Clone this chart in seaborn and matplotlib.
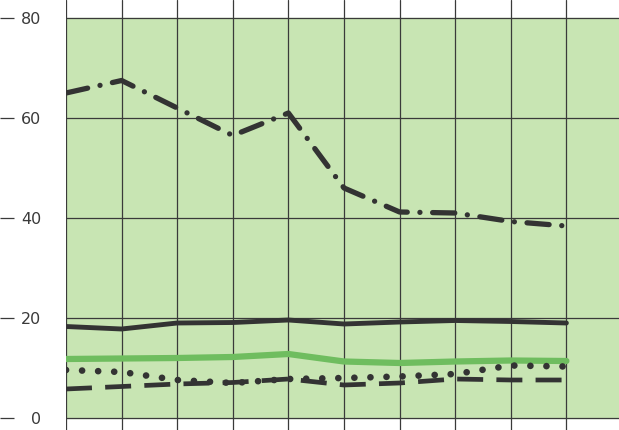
import pandas as pd
import matplotlib.pyplot as plt
import seaborn as sns

sns.set_style('white')
plt.rcParams['font.family'] = ['DejaVu Sans']

# values
x = list(range(10))
dashdot_vals = [65, 67.5, 62, 56.5, 61, 46, 41.2, 41, 39.3, 38.4]
solid_vals = [18.3, 17.8, 19.0, 19.1, 19.6, 18.8, 19.2, 19.5, 19.3, 19.0]
green_vals = [11.8, 11.9, 12.0, 12.2, 12.8, 11.3, 11.0, 11.3, 11.5, 11.4]
dotted_vals = [9.6, 9.2, 7.6, 7.0, 7.8, 8.0, 8.3, 8.8, 10.5, 10.3]
dashed_vals = [5.8, 6.3, 6.8, 7.1, 7.8, 6.6, 7.0, 7.8, 7.6, 7.6]
yticks = [0, 20, 40, 60, 80]

df = pd.DataFrame({'x': x, 'dashdot': dashdot_vals, 'solid': solid_vals,
                   'green': green_vals, 'dotted': dotted_vals, 'dashed': dashed_vals})

dark = '#333333'
grid_c = '#3a3a3a'
fig = plt.figure(figsize=(6.19, 4.30), dpi=100)
ax = fig.add_axes([66 / 619, 0, 1 - 66 / 619, 1])

# green panel
ax.axhspan(0, 80, color='#c8e5b3', zorder=0)

# grid
for xv in x:
    ax.axvline(xv, color=grid_c, lw=0.9, zorder=1)
for yv in yticks:
    ax.axhline(yv, color=grid_c, lw=0.9, zorder=1)
# small marks at far left of each tick row
ax.hlines(yticks, -66 / 553, -52 / 553, color=grid_c, lw=0.9,
          transform=ax.get_yaxis_transform(), clip_on=False)

sns.lineplot(data=df, x='x', y='green', ax=ax, color='#6fbd5f', lw=4.5, zorder=3)
sns.lineplot(data=df, x='x', y='solid', ax=ax, color=dark, lw=3.5, zorder=4)

sns.lineplot(data=df, x='x', y='dotted', ax=ax, color=dark, lw=4.8, zorder=4)
ln = ax.lines[-1]
ln.set_dashes((0.01, 2.4))
ln.set_dash_capstyle('round')

sns.lineplot(data=df, x='x', y='dashed', ax=ax, color=dark, lw=3.4, zorder=4)
ln = ax.lines[-1]
ln.set_dashes((5.5, 2.8))

sns.lineplot(data=df, x='x', y='dashdot', ax=ax, color=dark, lw=3.8, zorder=4)
ln = ax.lines[-1]
ln.set_dashes((4.2, 2.4, 0.01, 2.4))
ln.set_dash_capstyle('round')

ax.set_xlim(0, (619 - 66) / 55.6)
ax.set_ylim(-2.4, 83.6)
ax.set_xticks([])
ax.set_yticks(yticks)
ax.tick_params(axis='y', length=14, width=0.9, color=grid_c, pad=4,
               labelsize=11.5, labelcolor=grid_c)
ax.set_xlabel('')
ax.set_ylabel('')
for s in ax.spines.values():
    s.set_visible(False)

plt.savefig('out.png', dpi=100)
plt.close()
